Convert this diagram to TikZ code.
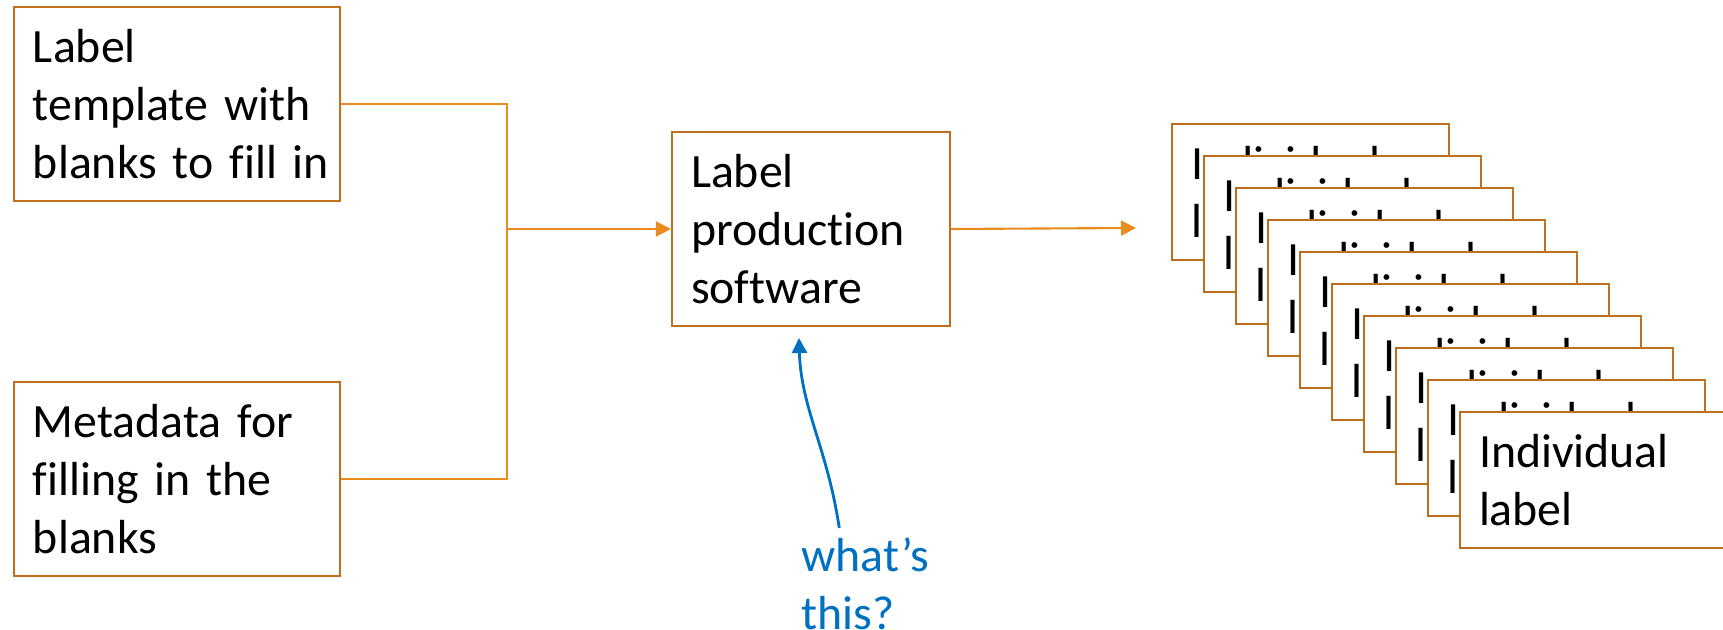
\documentclass[tikz,border=0pt]{standalone}
\usepackage{fontspec}
\setmainfont{Carlito}[Ligatures=NoCommon, WordSpace=0.8]
\usepackage{xcolor}
\usepackage{tikz}
\usetikzlibrary{arrows.meta,calc}

\definecolor{linkorange}{RGB}{233,139,30}
\definecolor{boxedge}{RGB}{191,111,31}
\definecolor{noteblue}{RGB}{0,112,192}

\begin{document}
\begin{tikzpicture}[>={Triangle[length=0.15cm,width=0.15cm]}, font=\fontsize{13.6}{16.6}\selectfont]
    % Styles
    \tikzstyle{block} = [draw=boxedge, line width=0.6pt, fill=white, rectangle, inner xsep=0.19cm, align=left, minimum height=1.94cm]
    \tikzstyle{card} = [block, minimum height=1.36cm, minimum width=2.77cm, text width=2.39cm]
    \tikzstyle{link} = [draw=linkorange, line width=0.6pt]

    \useasboundingbox (0, 0) rectangle (17.23, 6.30);

    % Inputs (Left)
    \node[block, minimum width=3.26cm, text width=2.88cm] (tmpl) at (1.77, 5.26) {Label\\template~with\\blanks~to~fill~in};
    \node[block, minimum width=3.26cm, text width=2.88cm] (meta) at (1.77, 1.51) {Metadata~for\\filling~in~the\\blanks};

    % Software (Center)
    \node[block, minimum width=2.78cm, text width=2.40cm] (soft) at (8.11, 4.01) {Label\\production\\software};

    % Inputs merge into the software
    \coordinate (merge) at (5.07, 4.01);
    \draw[link] (tmpl.east) -| (merge) |- (meta.east);
    \draw[link, ->, linkorange] (merge) -- (soft.west);

    % Stack of printed labels (Right), back to front
    \node[card] (card0) at (13.105, 4.38) {Individual\\label};
    \node[card] (card1) at (13.425, 4.06) {Individual\\label};
    \node[card] (card2) at (13.745, 3.74) {Individual\\label};
    \node[card] (card3) at (14.065, 3.42) {Individual\\label};
    \node[card] (card4) at (14.385, 3.10) {Individual\\label};
    \node[card] (card5) at (14.705, 2.78) {Individual\\label};
    \node[card] (card6) at (15.025, 2.46) {Individual\\label};
    \node[card] (card7) at (15.345, 2.14) {Individual\\label};
    \node[card] (card8) at (15.665, 1.82) {Individual\\label};
    \node[card] (card9) at (15.985, 1.50) {Individual\\label};

    % Software output to the stack
    \coordinate (stackin) at (11.36, 4.02);
    \draw[link, ->, linkorange] (soft.east) -- (stackin);

    % Question (Below software)
    \node[anchor=north west, inner sep=0, align=left, text=noteblue] (note) at (8.01, 0.93) {what’s\\this?};
    \draw[->, noteblue, line width=0.8pt] ([xshift=-0.26cm, yshift=0.09cm]note.north)
        .. controls +(-0.12, 0.8) and +(0.02, -0.7) .. ([xshift=-0.12cm, yshift=-0.11cm]soft.south);
\end{tikzpicture}
\end{document}
